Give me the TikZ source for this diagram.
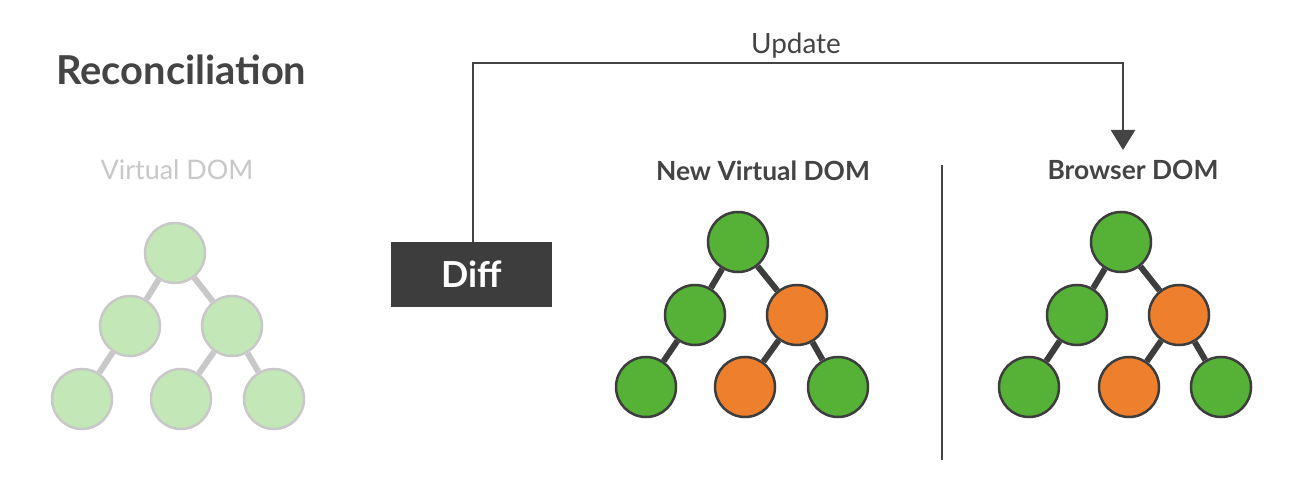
\documentclass[tikz,border=0pt]{standalone}
\usepackage{fontspec}
\setmainfont{Lato}
\usetikzlibrary{arrows.meta}
\definecolor{dk}{HTML}{3D3D3D}
\definecolor{gr}{HTML}{55B236}
\definecolor{org}{HTML}{EE7F2D}
\definecolor{lgr}{HTML}{C3E7B6}
\definecolor{lgy}{HTML}{C8C8C8}
\definecolor{txt}{HTML}{444444}
\tikzset{
  gnode/.style={circle,draw=dk,line width=2.5bp,fill=gr,minimum size=60bp,inner sep=0pt},
  onode/.style={gnode,fill=org},
  lnode/.style={circle,draw=lgy,line width=2.5bp,fill=lgr,minimum size=60bp,inner sep=0pt},
  dedge/.style={draw=dk,line width=6bp},
  ledge/.style={draw=lgy,line width=6bp},
  conn/.style={draw=txt,line width=2.5bp},
  lab/.style={inner sep=0pt,anchor=base},
}
\begin{document}
\begin{tikzpicture}[x=1bp,y=-1bp]
\useasboundingbox[fill=white] (0,0) rectangle (1293,488);
% titles
\node[lab,text=txt,font=\fontsize{40}{46}\selectfont\bfseries,anchor=base west] (title) at (56,85) {Reconciliation};
\node[lab,text=lgy,font=\fontsize{27}{32}\selectfont] (vlab) at (177,180) {Virtual DOM};
\node[lab,text=txt,font=\fontsize{26.5}{32}\selectfont\bfseries] (nlab) at (763,181) {New Virtual DOM};
\node[lab,text=txt,font=\fontsize{26.5}{32}\selectfont\bfseries] (blab) at (1133,180) {Browser DOM};
% left faded tree
\node[lnode] (a1) at (175,253) {};
\node[lnode] (a2) at (130,326) {};
\node[lnode] (a3) at (232,326) {};
\node[lnode] (a4) at (82,399) {};
\node[lnode] (a5) at (181,399) {};
\node[lnode] (a6) at (274,399) {};
\draw[ledge] (a1) -- (a2); \draw[ledge] (a1) -- (a3);
\draw[ledge] (a2) -- (a4); \draw[ledge] (a3) -- (a5); \draw[ledge] (a3) -- (a6);
% new virtual DOM tree
\node[gnode] (b1) at (738,242) {};
\node[gnode] (b2) at (695,315) {};
\node[onode] (b3) at (797,315) {};
\node[gnode] (b4) at (646,387) {};
\node[onode] (b5) at (745,387) {};
\node[gnode] (b6) at (838,387) {};
\draw[dedge] (b1) -- (b2); \draw[dedge] (b1) -- (b3);
\draw[dedge] (b2) -- (b4); \draw[dedge] (b3) -- (b5); \draw[dedge] (b3) -- (b6);
% browser DOM tree
\node[gnode] (c1) at (1121,242) {};
\node[gnode] (c2) at (1077,315) {};
\node[onode] (c3) at (1179,315) {};
\node[gnode] (c4) at (1029,387) {};
\node[onode] (c5) at (1129,387) {};
\node[gnode] (c6) at (1221,387) {};
\draw[dedge] (c1) -- (c2); \draw[dedge] (c1) -- (c3);
\draw[dedge] (c2) -- (c4); \draw[dedge] (c3) -- (c5); \draw[dedge] (c3) -- (c6);
% diff box
\node[fill=dk,text=white,font=\fontsize{36}{40}\selectfont\bfseries,minimum width=161bp,minimum height=65bp,inner sep=0pt] (diff) at (471.5,274.5) {Diff};
% separator
\coordinate (s1) at (942,165);
\coordinate (s2) at (942,460);
\draw[conn] (s1) -- (s2);
% update connector
\coordinate (corner) at (473,63);
\coordinate (tip) at (1123,150);
\draw[conn,-{Triangle[width=24bp,length=20bp]}] (diff.north -| corner) -- (corner) -| (tip);
\node[lab,text=txt,font=\fontsize{28}{32}\selectfont] (upd) at (796,54) {Update};
\end{tikzpicture}
\end{document}
